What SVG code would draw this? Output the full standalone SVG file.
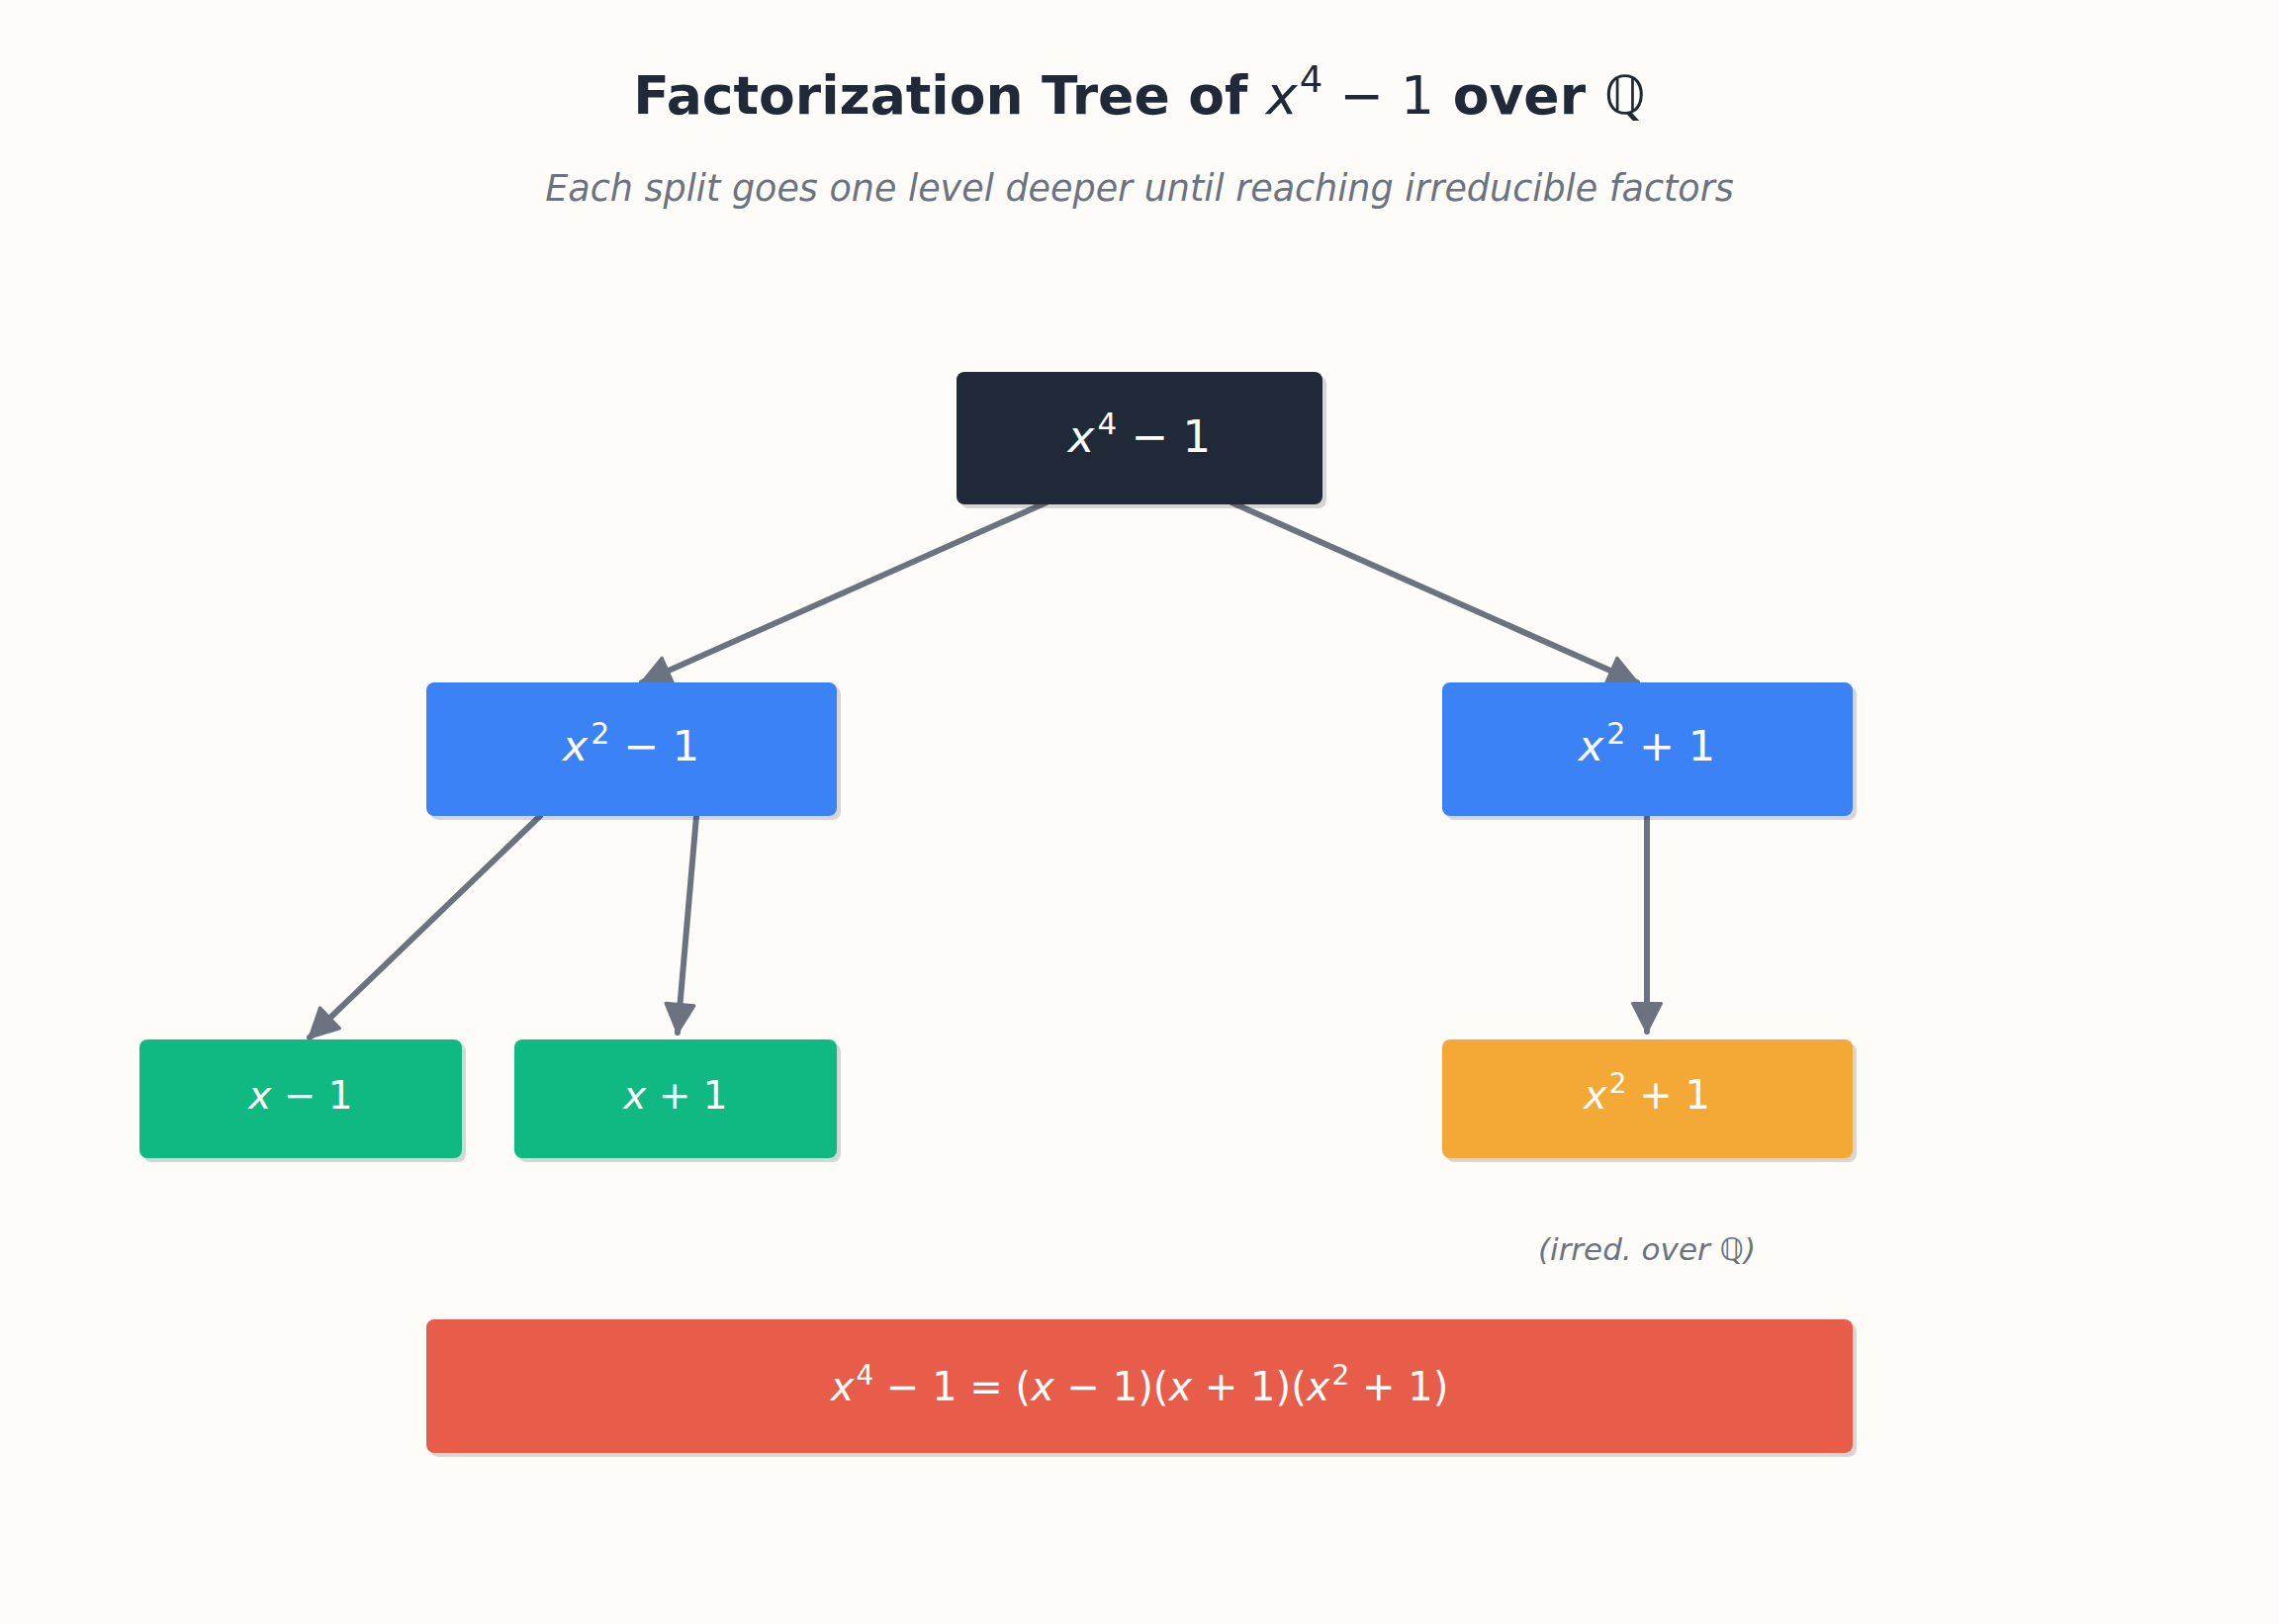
<svg xmlns="http://www.w3.org/2000/svg" width="2304" height="1642" viewBox="0 0 2304 1642">
<style>
  text { font-family: "DejaVu Sans", "Liberation Sans", sans-serif; }
  .title { font-size: 53.5px; font-weight: bold; fill: #1f2937; text-anchor: middle; }
  .sub { font-size: 36.5px; font-style: italic; fill: #6b7280; text-anchor: middle; }
  .m { fill: #ffffff; text-anchor: middle; }
  .it { font-style: italic; }
  .note { font-size: 31px; font-style: italic; fill: #6b7280; text-anchor: middle; }
  .shadow { fill: #000000; fill-opacity: 0.15; }
  .edge { stroke: #6b7280; stroke-width: 6; fill: none; stroke-linecap: round; marker-end: url(#arr); }
</style>
<defs>
  <marker id="arr" markerUnits="userSpaceOnUse" markerWidth="40" markerHeight="40" refX="30" refY="16" orient="auto" overflow="visible">
    <path d="M1.5,1.5 L30,16 L1.5,30.5 Z" fill="#6b7280" stroke="#6b7280" stroke-width="3" stroke-linejoin="round"/>
  </marker>
</defs>
<rect x="0" y="0" width="2304" height="1642" fill="#fdfcf9"/>

<text class="title" x="1152" y="115">Factorization Tree of <tspan font-weight="normal" font-style="italic">x</tspan><tspan font-weight="normal" font-size="37" dx="2" dy="-22">4</tspan><tspan font-weight="normal" dy="22"> − 1</tspan> over <tspan font-weight="normal">ℚ</tspan></text>
<text class="sub" x="1152" y="203">Each split goes one level deeper until reaching irreducible factors</text>

<g id="connectors">
  <line class="edge" x1="1058" y1="508" x2="649" y2="690"/>
  <line class="edge" x1="1245" y1="508" x2="1655" y2="690"/>
  <line class="edge" x1="546" y1="825" x2="313" y2="1049"/>
  <line class="edge" x1="704" y1="825" x2="685" y2="1044"/>
  <line class="edge" x1="1665" y1="825" x2="1665" y2="1043"/>
</g>

<g id="root">
  <rect class="shadow" x="971" y="380" width="370" height="134" rx="8"/>
  <rect x="967" y="376" width="370" height="134" rx="8" fill="#1f2937"/>
  <text class="m" x="1152" y="457" font-size="45"><tspan class="it">x</tspan><tspan font-size="31" dx="3" dy="-18">4</tspan><tspan dy="18"> − 1</tspan></text>
</g>

<g id="x2minus1">
  <rect class="shadow" x="435" y="694" width="415" height="135" rx="8"/>
  <rect x="431" y="690" width="415" height="135" rx="8" fill="#3b82f6"/>
  <text class="m" x="638" y="769" font-size="43"><tspan class="it">x</tspan><tspan font-size="30" dx="3" dy="-17">2</tspan><tspan dy="17"> − 1</tspan></text>
</g>

<g id="x2plus1">
  <rect class="shadow" x="1462" y="694" width="415" height="135" rx="8"/>
  <rect x="1458" y="690" width="415" height="135" rx="8" fill="#3b82f6"/>
  <text class="m" x="1665" y="769" font-size="43"><tspan class="it">x</tspan><tspan font-size="30" dx="3" dy="-17">2</tspan><tspan dy="17"> + 1</tspan></text>
</g>

<g id="xminus1">
  <rect class="shadow" x="145" y="1055" width="326" height="120" rx="8"/>
  <rect x="141" y="1051" width="326" height="120" rx="8" fill="#10b981"/>
  <text class="m" x="304" y="1121" font-size="39"><tspan class="it">x</tspan> − 1</text>
</g>

<g id="xplus1">
  <rect class="shadow" x="524" y="1055" width="326" height="120" rx="8"/>
  <rect x="520" y="1051" width="326" height="120" rx="8" fill="#10b981"/>
  <text class="m" x="683" y="1121" font-size="39"><tspan class="it">x</tspan> + 1</text>
</g>

<g id="irreducible">
  <rect class="shadow" x="1462" y="1055" width="415" height="120" rx="8"/>
  <rect x="1458" y="1051" width="415" height="120" rx="8" fill="#f4a836"/>
  <text class="m" x="1665" y="1121" font-size="40"><tspan class="it">x</tspan><tspan font-size="28" dx="2" dy="-16">2</tspan><tspan dy="16"> + 1</tspan></text>
  <text class="note" x="1665" y="1274">(irred. over ℚ)</text>
</g>

<g id="result">
  <rect class="shadow" x="435" y="1338" width="1442" height="135" rx="8"/>
  <rect x="431" y="1334" width="1442" height="135" rx="8" fill="#e85d4a"/>
  <text class="m" x="1152" y="1416" font-size="40"><tspan class="it">x</tspan><tspan font-size="28" dx="2" dy="-16">4</tspan><tspan dy="16"> − 1 = (</tspan><tspan class="it">x</tspan> − 1)(<tspan class="it">x</tspan> + 1)(<tspan class="it">x</tspan><tspan font-size="28" dx="2" dy="-16">2</tspan><tspan dy="16"> + 1)</tspan></text>
</g>
</svg>
